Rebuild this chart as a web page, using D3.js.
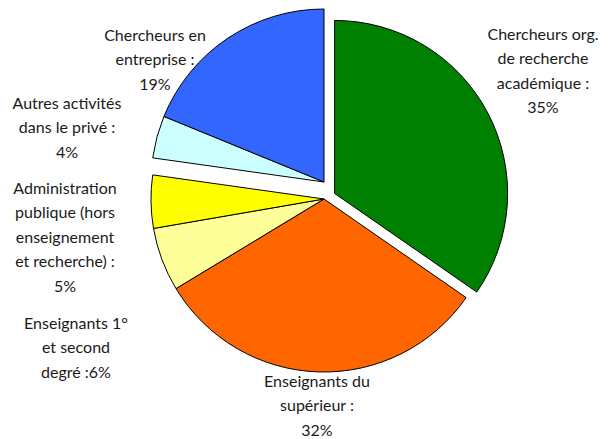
<!DOCTYPE html>
<html lang="fr">
<head>
<meta charset="utf-8">
<script src="https://cdn.jsdelivr.net/npm/d3@7"></script>
<style>
  html, body { margin: 0; padding: 0; background: #fff; }
  svg { display: block; }
  text { font-family: Lato, "Open Sans", sans-serif; font-size: 16px; fill: #1a1a1a; }
</style>
</head>
<body>
<svg id="chart" width="616" height="439"></svg>
<script>
// Répartition des docteurs par secteur d'emploi (%)
const categories = [
  "Chercheurs org. de recherche académique",
  "Enseignants du supérieur",
  "Enseignants 1° et second degré",
  "Administration publique (hors enseignement et recherche)",
  "Autres activités dans le privé",
  "Chercheurs en entreprise"
];
const values = [35, 32, 6, 5, 4, 19];
const colors = ["#008000", "#FF6600", "#FFFF99", "#FFFF00", "#CCFFFF", "#3366FF"];

// Label text, line by line; the percentage is added from `values`
const labelLines = [
  ["Chercheurs org.", "de recherche", "académique :"],
  ["Enseignants du", "supérieur :"],
  ["Enseignants 1°", "et second", "degré :"],
  ["Administration", "publique (hors", "enseignement", "et recherche) :"],
  ["Autres activités", "dans le privé :"],
  ["Chercheurs en", "entreprise :"]
];
// true: percentage goes on its own line, false: appended to the last line
const valueOnNewLine = [true, true, false, true, true, true];

// Layout
const cx = 324, cy = 199, radius = 173;
// Slice explosion: distance and bearing (deg, clockwise from top; null = slice bisector)
const explodeDist = [12, 0, 0, 0, 17, 17];
const explodeBearing = [null, null, null, null, 0, 0];
// Label block anchors: centre x, middle of first line y
const labelAnchor = [[543, 34], [317, 381], [76, 323], [65, 188], [67, 103], [155, 35]];
const lineHeight = 24.5;

const svg = d3.select("#chart");
const g = svg.append("g").attr("transform", `translate(${cx},${cy})`);

const pie = d3.pie().sort(null).value(d => d)(values);
const arc = d3.arc().innerRadius(0).outerRadius(radius);

g.selectAll("path.slice")
  .data(pie)
  .join("path")
  .attr("class", "slice")
  .attr("d", arc)
  .attr("fill", (d, i) => colors[i])
  .attr("stroke", "#000")
  .attr("stroke-width", 1)
  .attr("stroke-linejoin", "round")
  .attr("transform", (d, i) => {
    const a = explodeBearing[i] === null ? (d.startAngle + d.endAngle) / 2 : explodeBearing[i] * Math.PI / 180;
    const dist = explodeDist[i];
    return `translate(${dist * Math.sin(a)},${-dist * Math.cos(a)})`;
  });

// Labels
pie.forEach((d, i) => {
  const lines = labelLines[i].slice();
  const pct = `${values[i]}%`;
  if (valueOnNewLine[i]) lines.push(pct);
  else lines[lines.length - 1] = lines[lines.length - 1] + pct;
  const [lx, ly] = labelAnchor[i];
  const t = svg.append("text")
    .attr("text-anchor", "middle")
    .attr("x", lx)
    .attr("y", ly);
  lines.forEach((s, k) => {
    t.append("tspan")
      .attr("x", lx)
      .attr("y", ly + k * lineHeight)
      .attr("dy", "0.36em")
      .text(s);
  });
});
</script>
</body>
</html>
